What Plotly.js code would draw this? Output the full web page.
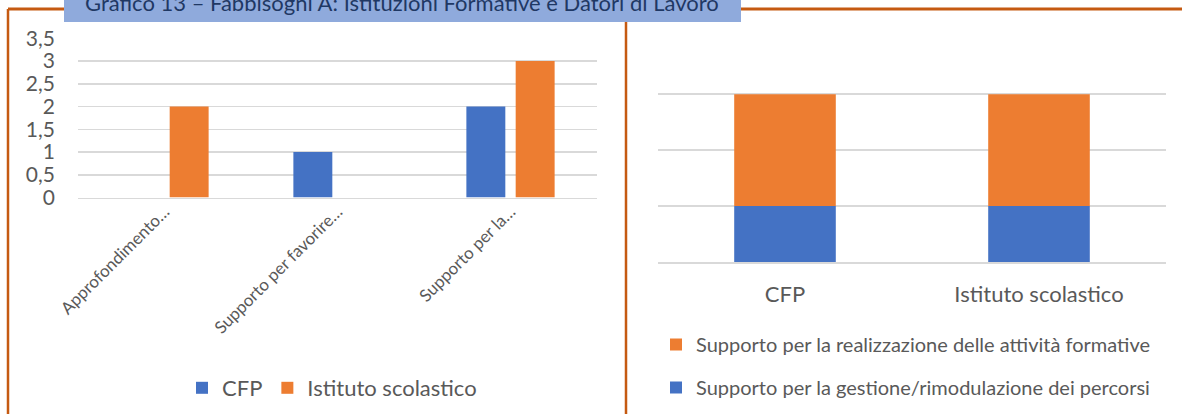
<!DOCTYPE html>
<html>
<head>
<meta charset="utf-8">
<script src="https://cdn.plot.ly/plotly-3.0.1.min.js"></script>
<style>
  html, body { margin: 0; padding: 0; background: #ffffff; }
  #chart { width: 1182px; height: 414px; }
</style>
</head>
<body>
<div id="chart"></div>
<script>
// ---- Data ----
const chartTitle = "Grafico 13 – Fabbisogni A: Istituzioni Formative e Datori di Lavoro";

const leftCategories = ["Approfondimento…", "Supporto per favorire…", "Supporto per la…"];
const leftSeriesNames = ["CFP", "Istituto scolastico"];
const leftCFP = [0, 1, 2];
const leftIstituto = [2, 0, 3];
const leftTickValues = [0, 0.5, 1, 1.5, 2, 2.5, 3, 3.5];

const rightCategories = ["CFP", "Istituto scolastico"];
const rightSeriesNames = [
  "Supporto per la gestione/rimodulazione dei percorsi",
  "Supporto per la realizzazione delle attività formative"
];
const rightGestione = [1, 1];
const rightRealizzazione = [2, 2];
const rightTickValues = [0, 1, 2, 3, 4];

// ---- Layout helpers ----
const W = 1182, H = 414;
const px = v => v / W;
const py = v => 1 - v / H;

const BLUE = "#4472C4";
const ORANGE = "#ED7D31";
const GRID = "#D9D9D9";
const TEXT = "#595959";
const BORDER = "#C55A11";
const FONT = "Lato, 'Open Sans', sans-serif";

const traces = [
  {
    type: "bar", name: leftSeriesNames[0], x: leftCategories, y: leftCFP,
    marker: { color: BLUE }, xaxis: "x", yaxis: "y", legend: "legend",
    hoverinfo: "skip"
  },
  {
    type: "bar", name: leftSeriesNames[1], x: leftCategories, y: leftIstituto,
    marker: { color: ORANGE }, xaxis: "x", yaxis: "y", legend: "legend",
    hoverinfo: "skip"
  },
  {
    type: "bar", name: rightSeriesNames[0], x: rightCategories, y: rightGestione,
    marker: { color: BLUE }, xaxis: "x2", yaxis: "y2", legend: "legend2",
    width: 0.4, offset: -0.2, legendgroup: "g1", legendrank: 2, hoverinfo: "skip"
  },
  {
    type: "bar", name: rightSeriesNames[1], x: rightCategories, y: rightRealizzazione,
    base: rightGestione,
    marker: { color: ORANGE }, xaxis: "x2", yaxis: "y2", legend: "legend2",
    width: 0.4, offset: -0.2, legendgroup: "g2", legendrank: 1, hoverinfo: "skip"
  }
];

const layout = {
  width: W, height: H,
  margin: { l: 0, r: 0, t: 0, b: 0, pad: 0 },
  paper_bgcolor: "#ffffff", plot_bgcolor: "#ffffff",
  font: { family: FONT, color: TEXT, size: 17 },
  separators: ",.",
  barmode: "group",
  bargap: 0.43,
  bargroupgap: 0.21,
  showlegend: true,
  xaxis: {
    domain: [px(78), px(597)],
    anchor: "y",
    type: "category",
    tickangle: -45,
    tickfont: { size: 17, color: TEXT },
    showgrid: false, zeroline: false,
    showline: true, linecolor: GRID, linewidth: 1.5,
    ticks: "", ticklabelstandoff: -4, fixedrange: true
  },
  yaxis: {
    domain: [py(197.5), py(38.3)],
    anchor: "x",
    range: [0, 3.5],
    tickvals: leftTickValues,
    tickfont: { size: 21, color: TEXT },
    showgrid: true, gridcolor: GRID, gridwidth: 1.5,
    zeroline: false, showline: false, ticks: "",
    ticklabelstandoff: 22, fixedrange: true
  },
  xaxis2: {
    domain: [px(658), px(1166)],
    anchor: "y2",
    type: "category",
    tickfont: { size: 22, color: TEXT },
    showgrid: false, zeroline: false,
    showline: true, linecolor: GRID, linewidth: 1.5,
    ticks: "", ticklabelstandoff: 12, fixedrange: true
  },
  yaxis2: {
    domain: [py(262), py(38.3)],
    anchor: "x2",
    range: [0, 4],
    tickvals: rightTickValues,
    showticklabels: false,
    showgrid: true, gridcolor: GRID, gridwidth: 1.5,
    zeroline: false, showline: false, ticks: "", fixedrange: true
  },
  legend: {
    orientation: "h",
    x: px(332), xanchor: "center",
    y: py(388), yanchor: "middle",
    font: { size: 22, color: TEXT },
    bgcolor: "rgba(0,0,0,0)", borderwidth: 0,
    traceorder: "normal"
  },
  legend2: {
    orientation: "v",
    x: px(656), xanchor: "left",
    y: py(325), yanchor: "top",
    font: { size: 20, color: TEXT },
    bgcolor: "rgba(0,0,0,0)", borderwidth: 0,
    traceorder: "grouped",
    tracegroupgap: 14
  },
  shapes: [
    // orange frame
    { type: "line", xref: "paper", yref: "paper", x0: px(8), x1: px(8), y0: py(9), y1: py(414),
      line: { color: BORDER, width: 2.5 } },
    { type: "line", xref: "paper", yref: "paper", x0: px(8), x1: px(1182), y0: py(9), y1: py(9),
      line: { color: BORDER, width: 3 } },
    { type: "line", xref: "paper", yref: "paper", x0: px(626), x1: px(626), y0: py(9), y1: py(414),
      line: { color: BORDER, width: 2.5 } },
    // title box
    { type: "rect", xref: "paper", yref: "paper", x0: px(64), x1: px(741), y0: py(0), y1: py(22),
      fillcolor: "#8FAADC", line: { width: 0 } }
  ],
  annotations: [
    { text: chartTitle, xref: "paper", yref: "paper",
      x: px(402), xanchor: "center", y: py(2), yanchor: "middle",
      showarrow: false, font: { family: FONT, size: 22, color: "#1F3864" } }
  ]
};

Plotly.newPlot("chart", traces, layout, { displayModeBar: false, staticPlot: true });
</script>
</body>
</html>
